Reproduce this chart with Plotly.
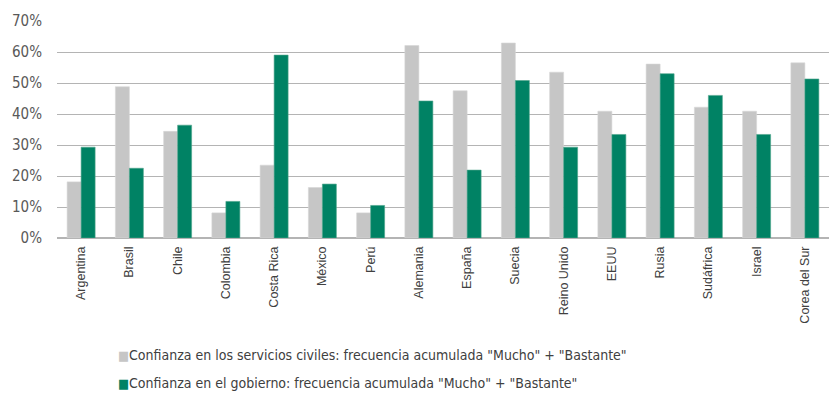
import plotly.graph_objects as go

paises = ["Argentina", "Brasil", "Chile", "Colombia", "Costa Rica", "México", "Perú",
          "Alemania", "España", "Suecia", "Reino Unido", "EEUU", "Rusia", "Sudáfrica",
          "Israel", "Corea del Sur"]

servicios_civiles = [18.1, 48.8, 34.4, 8.1, 23.5, 16.3, 8.1,
                     62.1, 47.5, 62.9, 53.5, 40.9, 56.1, 42.2, 40.9, 56.5]
gobierno = [29.3, 22.5, 36.4, 11.8, 59.0, 17.4, 10.5,
            44.2, 21.9, 50.8, 29.3, 33.4, 53.0, 46.0, 33.4, 51.3]

y_ticks = [0, 10, 20, 30, 40, 50, 60, 70]
y_tick_labels = ["0%", "10%", "20%", "30%", "40%", "50%", "60%", "70%"]

nombre_serv = 'Confianza en los servicios civiles: frecuencia acumulada "Mucho" + "Bastante"'
nombre_gob = 'Confianza en el gobierno: frecuencia acumulada "Mucho" + "Bastante"'

GRIS = "#C6C6C6"
VERDE = "#008264"
COND = "DejaVu Sans Condensed, Liberation Sans Narrow, Arial Narrow, sans-serif"

fig = go.Figure()
fig.add_trace(go.Bar(
    x=paises, y=servicios_civiles, name=nombre_serv,
    marker=dict(color=GRIS, line=dict(color="#D6D6D6", width=0.6)),
))
fig.add_trace(go.Bar(
    x=paises, y=gobierno, name=nombre_gob,
    marker=dict(color=VERDE, line=dict(color="#4FA58C", width=0.6)),
))

# Legend rows drawn as text below the category labels
# (name, swatch colour, distance of row centre above the page bottom in px)
leyenda = [(nombre_serv, GRIS, 38), (nombre_gob, VERDE, 10)]
plot_h = 393 - 21 - 155
anots = []
for texto, color, desde_abajo in leyenda:
    anots.append(dict(
        xref="paper", yref="paper",
        x=(116 - 57) / 772, xanchor="left",
        y=-(155 - desde_abajo) / plot_h, yanchor="middle",
        text=f'<span style="color:{color};font-size:13px">■</span>{texto}',
        showarrow=False, align="left",
        font=dict(family=COND, size=14, color="#404040"),
    ))

fig.update_layout(
    width=829, height=393,
    margin=dict(l=57, r=0, t=21, b=155),
    paper_bgcolor="white", plot_bgcolor="white",
    barmode="group", bargap=0.42, bargroupgap=0,
    font=dict(family=COND, color="#595959"),
    showlegend=False,
    annotations=anots,
    yaxis=dict(
        range=[0, 70], tickvals=y_ticks, ticktext=y_tick_labels,
        showgrid=True, gridcolor="#B4B4B4", gridwidth=1.4,
        zeroline=True, zerolinecolor="#B4B4B4", zerolinewidth=1.6,
        tickfont=dict(family=COND, size=15, color="#595959"),
        ticks="", ticklabelstandoff=14, fixedrange=True, automargin=False,
    ),
    xaxis=dict(
        tickangle=-90, showgrid=False, ticks="", ticklabelstandoff=5,
        tickfont=dict(family="Liberation Sans, Arial, sans-serif", size=12.5, color="#404040"),
        showline=False, fixedrange=True, automargin=False,
    ),
)

fig.write_html("out.html")
